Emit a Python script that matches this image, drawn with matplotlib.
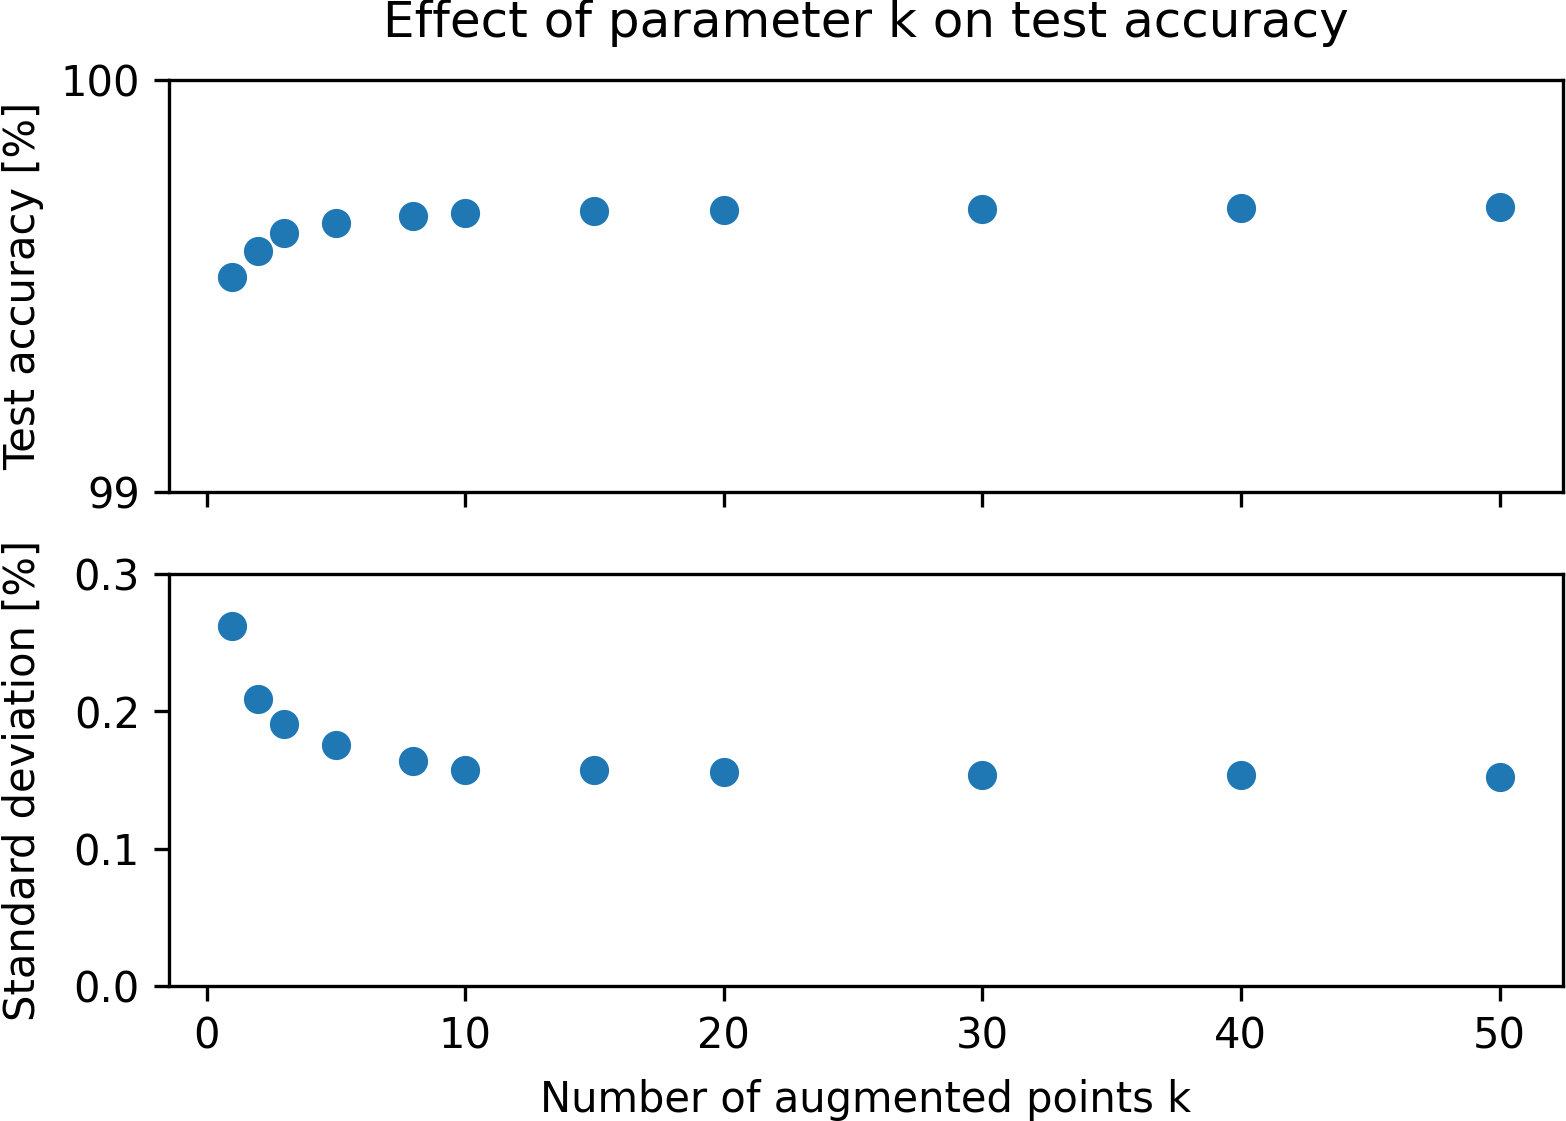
import numpy as np
import matplotlib
matplotlib.use("Agg")
import matplotlib.pyplot as plt

# values
k_values = [1, 2, 3, 5, 8, 10, 15, 20, 30, 40, 50]
mean_acc = [99.521, 99.584, 99.628, 99.652, 99.669, 99.676, 99.681, 99.684, 99.686, 99.689, 99.691]
std_acc = [0.262, 0.209, 0.191, 0.1755, 0.164, 0.157, 0.157, 0.156, 0.1537, 0.154, 0.152]

fig, (ax1, ax2) = plt.subplots(2, 1, sharex=True, figsize=(5.22, 3.737), dpi=300)
fig.subplots_adjust(left=0.108, right=0.998, top=0.9286, bottom=0.1204, hspace=0.2)

ax1.scatter(k_values, mean_acc, color="C0")
ax1.set_ylim(99, 100)
ax1.set_yticks([99, 100])
ax1.set_ylabel("Test accuracy [%]")
ax1.set_title("Effect of parameter k on test accuracy", pad=10.3)

ax2.scatter(k_values, std_acc, color="C0")
ax2.set_ylim(0, 0.3)
ax2.set_yticks([0.0, 0.1, 0.2, 0.3])
ax2.set_ylabel("Standard deviation [%]")
ax2.set_xlabel("Number of augmented points k", labelpad=5.2)

fig.align_ylabels([ax1, ax2])

fig.savefig("out.png", dpi=300)
